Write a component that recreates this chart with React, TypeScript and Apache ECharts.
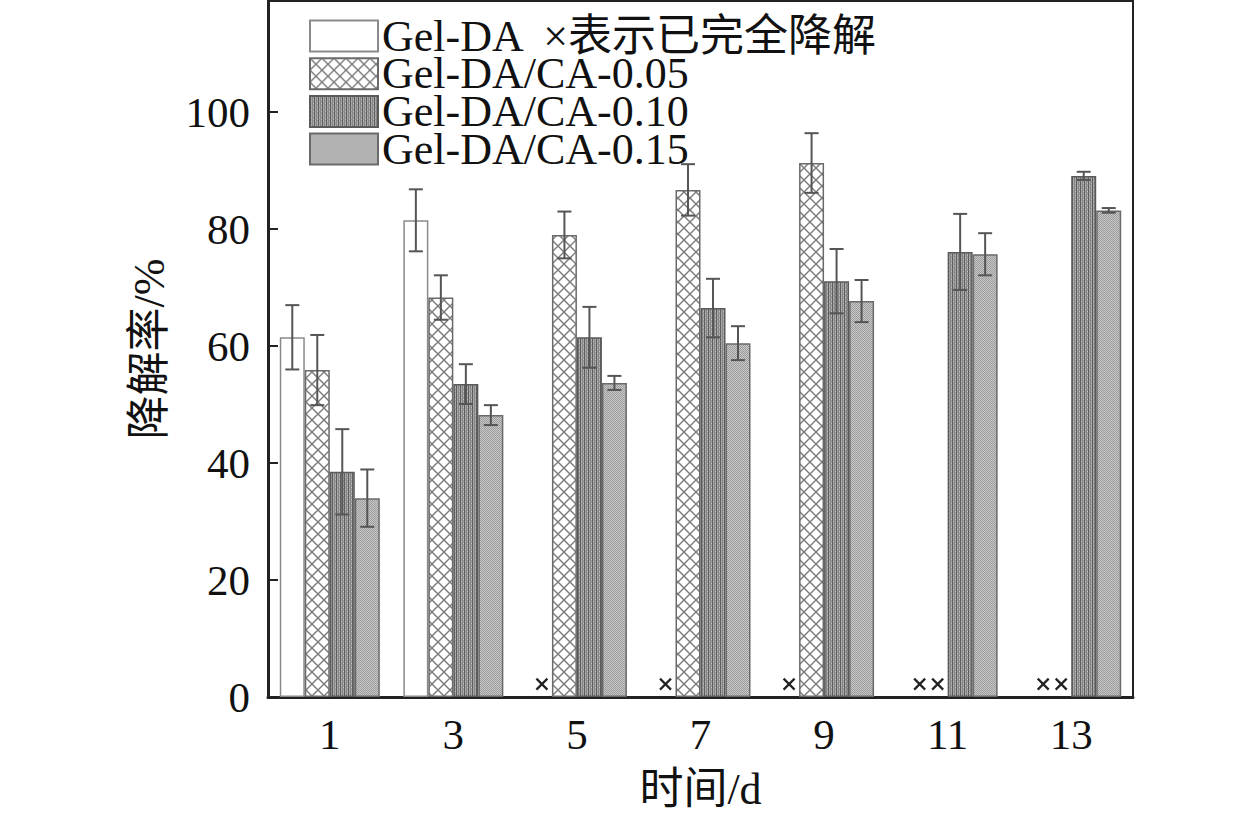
import React, { useEffect, useRef } from "react";
import * as echarts from "echarts";

const days = ["1", "3", "5", "7", "9", "11", "13"];
const seriesNames = ["Gel-DA", "Gel-DA/CA-0.05", "Gel-DA/CA-0.10", "Gel-DA/CA-0.15"];
const gelDA = [61.5, 81.5, null, null, null, null, null];
const ca005 = [55.9, 68.3, 79.0, 86.7, 91.3, null, null];
const ca010 = [38.5, 53.5, 61.5, 66.5, 71.1, 76.1, 89.1];
const ca015 = [34.0, 48.2, 53.7, 60.5, 67.7, 75.7, 83.2];
const gelDAErr = [5.5, 5.3, null, null, null, null, null];
const ca005Err = [6.0, 3.8, 4.0, 4.4, 5.1, null, null];
const ca010Err = [7.3, 3.4, 5.2, 5.0, 5.5, 6.5, 0.7];
const ca015Err = [4.9, 1.7, 1.2, 2.9, 3.6, 3.6, 0.4];
// number of fully degraded samples per day (drawn as ×)
const degradedCount = [0, 0, 1, 1, 1, 2, 2];
const yTicks = { min: 0, max: 119, interval: 20 };
const legendNote = "  ×表示已完全降解";

const FONT = "'Liberation Serif', 'Times New Roman', 'Noto Sans CJK SC', serif";
const BAR_W = 25;

function makeTile(w: number, h: number, draw: (ctx: CanvasRenderingContext2D) => void) {
  const c = document.createElement("canvas");
  c.width = w;
  c.height = h;
  const ctx = c.getContext("2d")!;
  draw(ctx);
  return { image: c, repeat: "repeat", imageWidth: w, imageHeight: h } as any;
}

export default function App() {
  const ref = useRef<HTMLDivElement>(null);
  useEffect(() => {
    document.body.style.margin = "0";
    const chart = echarts.init(ref.current!, null, { renderer: "svg" });

    const cross = makeTile(12, 12, (ctx) => {
      ctx.fillStyle = "#ffffff";
      ctx.fillRect(0, 0, 12, 12);
      ctx.strokeStyle = "#7a7a7a";
      ctx.lineWidth = 1.4;
      ctx.beginPath();
      ctx.moveTo(0, 0); ctx.lineTo(12, 12);
      ctx.moveTo(12, 0); ctx.lineTo(0, 12);
      ctx.stroke();
    });
    const vert = makeTile(4, 4, (ctx) => {
      ctx.fillStyle = "#a0a0a0";
      ctx.fillRect(0, 0, 4, 4);
      ctx.fillStyle = "#5e5e5e";
      ctx.fillRect(0, 0, 1, 4);
      ctx.fillStyle = "#868686";
      ctx.fillRect(2, 0, 1, 4);
      ctx.fillStyle = "#bcbcbc";
      ctx.fillRect(1, 1, 1, 1);
      ctx.fillRect(3, 3, 1, 1);
    });
    const dots = makeTile(2, 2, (ctx) => {
      ctx.fillStyle = "#c8c8c8";
      ctx.fillRect(0, 0, 2, 2);
      ctx.fillStyle = "#9c9c9c";
      ctx.fillRect(0, 0, 1, 1);
      ctx.fillRect(1, 1, 1, 1);
    });

    const values = [gelDA, ca005, ca010, ca015];
    const errs = [gelDAErr, ca005Err, ca010Err, ca015Err];
    const fills = ["#ffffff", cross, vert, dots];
    const borders = ["#8a8a8a", "#6a6a6a", "#5a5a5a", "#6a6a6a"];

    const barSeries = seriesNames.map((name, i) => ({
      name,
      type: "bar",
      barWidth: BAR_W,
      barGap: "0%",
      data: values[i].map((v) => (v == null ? "-" : v)),
      itemStyle: { color: fills[i], borderColor: borders[i], borderWidth: 1.5 },
      emphasis: { disabled: true },
    }));

    const errSeries = seriesNames.map((name, i) => ({
      type: "custom",
      name: name + "-err",
      z: 5,
      data: values[i]
        .map((v, k) => (v == null ? null : [k, v, errs[i][k]]))
        .filter((d) => d != null),
      renderItem: (params: any, api: any) => {
        const ci = api.value(0);
        const v = api.value(1);
        const e = api.value(2);
        const off = (i - 1.5) * BAR_W;
        const t = api.coord([ci, v + e]);
        const b = api.coord([ci, v - e]);
        const x = t[0] + off;
        const st = { stroke: "#555555", lineWidth: 2 };
        return {
          type: "group",
          children: [
            { type: "line", shape: { x1: x, y1: t[1], x2: x, y2: b[1] }, style: st },
            { type: "line", shape: { x1: x - 7, y1: t[1], x2: x + 7, y2: t[1] }, style: st },
            { type: "line", shape: { x1: x - 7, y1: b[1], x2: x + 7, y2: b[1] }, style: st },
          ],
        };
      },
    }));

    const markSeries = {
      type: "custom",
      name: "degraded",
      z: 6,
      data: degradedCount.map((c, k) => [k, c]).filter((d) => d[1] > 0),
      renderItem: (params: any, api: any) => {
        const ci = api.value(0);
        const c = api.value(1);
        const p = api.coord([ci, 2.2]);
        const offs = c === 1 ? [-35] : [-28, -10];
        const st = { stroke: "#222222", lineWidth: 2.2 };
        const s = 5.5;
        const children: any[] = [];
        offs.forEach((o) => {
          const x = p[0] + o;
          const y = p[1];
          children.push({ type: "line", shape: { x1: x - s, y1: y - s, x2: x + s, y2: y + s }, style: st });
          children.push({ type: "line", shape: { x1: x + s, y1: y - s, x2: x - s, y2: y + s }, style: st });
        });
        return { type: "group", children };
      },
    };

    chart.setOption({
      animation: false,
      grid: {
        left: 268,
        right: 126,
        top: 1,
        bottom: 118,
        show: true,
        borderColor: "#222",
        borderWidth: 2,
        backgroundColor: "transparent",
      },
      legend: {
        data: seriesNames,
        orient: "vertical",
        left: 309,
        top: 14,
        padding: 0,
        icon: "rect",
        itemWidth: 68,
        itemHeight: 31,
        itemGap: -6.3,
        selectedMode: false,
        formatter: (n: string) => (n === "Gel-DA" ? n + legendNote : n),
        textStyle: { fontSize: 44, color: "#111", fontFamily: FONT, padding: [0, 0, 0, -1] },
      },
      xAxis: {
        type: "category",
        data: days,
        name: "时间/d",
        nameLocation: "middle",
        nameGap: 70,
        nameTextStyle: { fontSize: 44, color: "#111", fontFamily: FONT },
        axisLine: { show: true, lineStyle: { color: "#222", width: 3 } },
        axisTick: { show: false },
        axisLabel: { fontSize: 43, color: "#111", fontFamily: FONT, margin: 16 },
        splitLine: { show: false },
      },
      yAxis: {
        type: "value",
        min: yTicks.min,
        max: yTicks.max,
        interval: yTicks.interval,
        name: "降解率/%",
        nameLocation: "middle",
        nameGap: 97,
        nameTextStyle: { fontSize: 44, color: "#111", fontFamily: FONT },
        axisLine: { show: true, lineStyle: { color: "#222", width: 3 } },
        axisTick: { show: true, inside: true, length: 10, lineStyle: { color: "#222", width: 2 } },
        axisLabel: { fontSize: 43, color: "#111", fontFamily: FONT, margin: 18, showMaxLabel: false },
        splitLine: { show: false },
      },
      series: [...barSeries, ...errSeries, markSeries],
    });
    return () => chart.dispose();
  }, []);
  return <div ref={ref} style={{ width: 1259, height: 816 }} />;
}
